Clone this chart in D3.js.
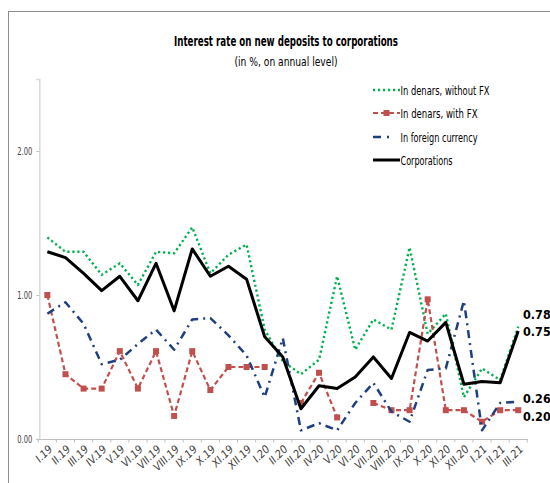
<!DOCTYPE html>
<html><head><meta charset="utf-8">
<script src="https://cdn.jsdelivr.net/npm/d3@7"></script>
<style>
body{margin:0;background:#fff;}
text{font-family:"Liberation Sans Narrow","DejaVu Sans Condensed","Liberation Sans",sans-serif;}
</style></head>
<body><svg id="c" width="550" height="483"></svg>
<script>
const categories = ["I.19","II.19","III.19","IV.19","V.19","VI.19","VII.19","VIII.19","IX.19","X.19","XI.19","XII.19",
  "I.20","II.20","III.20","IV.20","V.20","VI.20","VII.20","VIII.20","IX.20","X.20","XI.20","XII.20","I.21","II.21","III.21"];
const denarsWithoutFX = [1.40,1.30,1.30,1.14,1.22,1.07,1.30,1.29,1.47,1.15,1.28,1.35,0.76,0.54,0.45,0.55,1.13,0.62,0.83,0.76,1.33,0.73,0.87,0.29,0.49,0.41,0.78];
const denarsWithFX = [1.00,0.45,0.35,0.35,0.61,0.35,0.61,0.16,0.61,0.34,0.50,0.50,0.50,null,0.25,0.46,0.15,null,0.25,0.20,0.20,0.97,0.20,0.20,0.12,0.20,0.20];
const foreignCurrency = [0.87,0.95,0.80,0.52,0.55,0.66,0.76,0.62,0.83,0.84,0.72,0.58,0.29,0.70,0.06,0.11,0.06,0.25,0.39,0.19,0.12,0.48,0.49,0.96,0.06,0.25,0.26];
const corporations = [1.30,1.26,1.15,1.03,1.13,0.96,1.22,0.89,1.32,1.13,1.20,1.11,0.71,0.57,0.21,0.37,0.35,0.43,0.57,0.42,0.74,0.68,0.81,0.38,0.40,0.39,0.75];
const yTicks = [0, 1, 2];
const seriesNames = ["In denars, without FX","In denars, with FX","In foreign currency","Corporations"];
const endLabels = ["0.78","0.75","0.26","0.20"];

const svg = d3.select("#c");
// frame
svg.append("rect").attr("x",8.5).attr("y",11.5).attr("width",600).attr("height",520)
  .attr("fill","none").attr("stroke","#8c8c8c").attr("stroke-width",1);

const x = d3.scaleBand().domain(categories).range([38.3, 527.3]).padding(0);
const y = d3.scaleLinear().domain([0, 2.5]).range([439, 79]);
const cx = c => x(c) + x.bandwidth()/2;

// y axis
const yAxis = svg.append("g").attr("transform","translate(39.3,0)")
  .call(d3.axisLeft(y).tickValues(yTicks).tickSize(3).tickFormat(d3.format(".2f")));
yAxis.select(".domain").attr("stroke","#d9d9d9").attr("stroke-width",1.5);
yAxis.selectAll(".tick line").attr("stroke","#bfbfbf");
yAxis.selectAll(".tick text").attr("fill","#404040").attr("font-size","10.5px").attr("x",-7)
  .attr("textLength",15).attr("lengthAdjust","spacingAndGlyphs");

// x axis
const xAxis = svg.append("g").attr("transform","translate(0,439)")
  .call(d3.axisBottom(x).tickSize(0).tickFormat(""));
xAxis.select(".domain").attr("stroke","#bfbfbf").attr("stroke-width",1);
xAxis.selectAll(".tick").remove();
const bounds = categories.map(c => x(c)).concat([x.range()[1]]);
xAxis.selectAll("line.b").data(bounds).enter().append("line")
  .attr("x1",d=>d).attr("x2",d=>d).attr("y1",0).attr("y2",3.5).attr("stroke","#bfbfbf");
svg.append("g").selectAll("text").data(categories).enter().append("text")
  .attr("transform", d => `translate(${cx(d)+3},${447}) rotate(-45)`)
  .attr("text-anchor","end").attr("dy","0.35em")
  .attr("font-size","11px").attr("fill","#404040").attr("font-style","italic")
  .text(d=>d);

// title
svg.append("text").attr("x",286).attr("y",46).attr("text-anchor","middle")
  .attr("font-size","14.5px").attr("font-weight","bold").attr("fill","#000")
  .attr("textLength",224).attr("lengthAdjust","spacingAndGlyphs")
  .text("Interest rate on new deposits to corporations");
svg.append("text").attr("x",286).attr("y",66).attr("text-anchor","middle")
  .attr("font-size","13px").attr("fill","#000")
  .attr("textLength",103).attr("lengthAdjust","spacingAndGlyphs")
  .text("(in %, on annual level)");

const styles = [
  {c:"#00b050", w:2.4, dash:"2.2,2.8"},
  {c:"#c0504d", w:2.2, dash:"5,3"},
  {c:"#1f3f7f", w:2.5, dash:"8,5,2,5"},
  {c:"#000000", w:3, dash:null}
];
const data = [denarsWithoutFX, denarsWithFX, foreignCurrency, corporations];

const line = d3.line().defined(d => d.v != null).x(d => cx(d.c)).y(d => y(d.v));
data.forEach((arr, k) => {
  const pts = arr.map((v,i)=>({c:categories[i], v}));
  const p = svg.append("path").datum(pts).attr("d", line).attr("fill","none")
    .attr("stroke", styles[k].c).attr("stroke-width", styles[k].w).attr("stroke-linejoin","round");
  if (styles[k].dash) p.attr("stroke-dasharray", styles[k].dash);
  if (k === 1) {
    svg.append("g").selectAll("rect").data(pts.filter(d=>d.v!=null)).enter().append("rect")
      .attr("x", d=>cx(d.c)-3).attr("y", d=>y(d.v)-3).attr("width",6).attr("height",6)
      .attr("fill", styles[k].c);
  }
});

// end labels
const labelY = [315, 332, 399, 417];
svg.append("g").selectAll("text").data(endLabels).enter().append("text")
  .attr("x", 523).attr("y", (d,i)=>labelY[i]).attr("dy","0.35em")
  .attr("font-size","12.5px").attr("font-weight","bold").attr("fill","#000")
  .text(d=>d);

// legend
const legendY = [90, 113, 137, 160];
const legendW = [89, 77, 77, 52];
const lg = svg.append("g");
seriesNames.forEach((n,k)=>{
  const yy = legendY[k];
  const l = lg.append("line").attr("x1",373).attr("x2",400).attr("y1",yy).attr("y2",yy)
    .attr("stroke",styles[k].c).attr("stroke-width",styles[k].w);
  if (k===2) l.attr("stroke-dasharray","8,6,2,20");
  else if (styles[k].dash) l.attr("stroke-dasharray",styles[k].dash);
  if (k===1) lg.append("rect").attr("x",383.5).attr("y",yy-3).attr("width",6).attr("height",6).attr("fill",styles[k].c);
  lg.append("text").attr("x",400.5).attr("y",yy).attr("dy","0.35em").attr("font-size","13px").attr("fill","#000")
    .attr("textLength",legendW[k]).attr("lengthAdjust","spacingAndGlyphs").text(n);
});
</script></body></html>
